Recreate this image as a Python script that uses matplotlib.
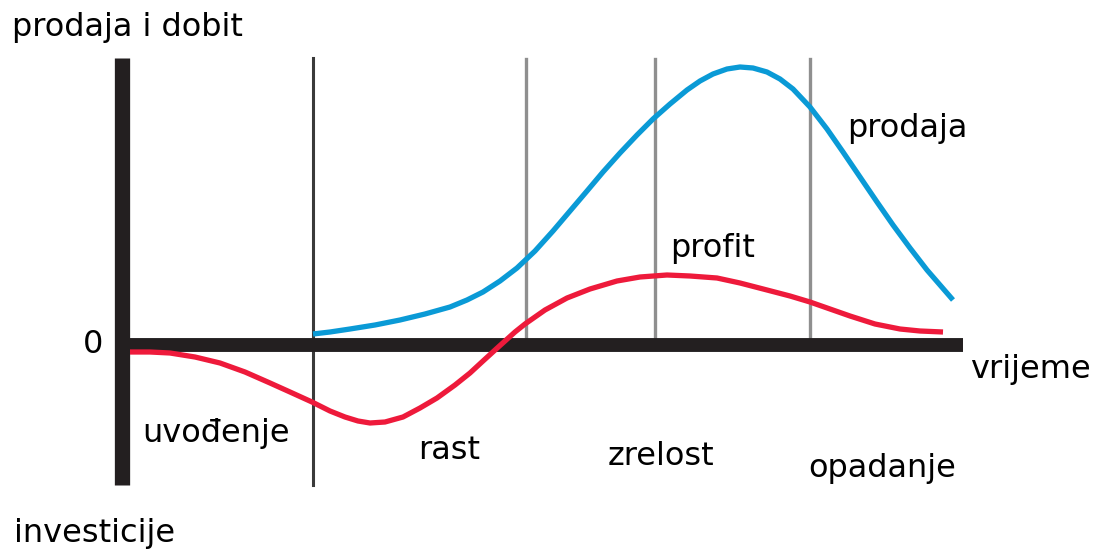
import matplotlib
matplotlib.use("Agg")
import matplotlib.pyplot as plt

# product life cycle (time / value units)
sales_t = [19.1, 20.8, 22.8, 25.3, 27.8, 30.3, 32.8, 34.5, 36.1, 37.8, 39.5, 41.3,
           43.1, 44.8, 46.5, 48.1, 49.8, 51.5, 53.1, 54.8, 56.5, 57.8, 59.1, 60.5,
           61.8, 63.1, 64.5, 65.8, 67.1, 68.8, 70.5, 72.1, 73.8, 75.5, 77.1, 78.8,
           80.5, 81.8, 83.1]
sales_v = [1.1, 1.3, 1.6, 2.0, 2.5, 3.1, 3.8, 4.5, 5.3, 6.4, 7.7, 9.4,
           11.4, 13.4, 15.4, 17.3, 19.2, 21.0, 22.6, 24.1, 25.5, 26.4, 27.1, 27.6,
           27.8, 27.7, 27.3, 26.6, 25.6, 23.8, 21.6, 19.3, 16.8, 14.3, 12.0, 9.7,
           7.5, 6.0, 4.5]

profit_t = [0.8, 2.8, 4.8, 7.3, 9.8, 12.3, 14.8, 16.8, 19.0, 20.8, 22.3, 23.6,
            24.8, 26.3, 28.1, 29.8, 31.5, 33.3, 34.8, 36.1, 37.8, 39.3, 40.3, 42.3,
            44.5, 46.8, 49.5, 51.8, 54.5, 56.8, 59.5, 61.8, 64.5, 66.8, 68.8, 70.8,
            72.8, 75.3, 77.8, 79.8, 82.1]
profit_v = [-0.7, -0.7, -0.8, -1.2, -1.8, -2.7, -3.8, -4.7, -5.7, -6.6, -7.2, -7.6,
            -7.8, -7.7, -7.2, -6.3, -5.3, -4.0, -2.8, -1.6, -0.05, 1.3, 2.1, 3.5,
            4.7, 5.6, 6.4, 6.8, 7.0, 6.9, 6.7, 6.2, 5.5, 4.9, 4.3, 3.6,
            2.9, 2.1, 1.6, 1.4, 1.3]

stage_bounds = [19.1, 40.4, 53.3, 68.8]
stage_names = ["uvođenje", "rast", "zrelost", "opadanje"]
stage_label_pos = [(2.0, -9.7), (29.6, -11.4), (48.6, -12.0), (68.6, -13.2)]

fig = plt.figure(figsize=(10.99, 5.49), dpi=100)
ax = fig.add_axes([0, 0, 1, 1])
ax.set_xlim(-12.2, 97.7)
ax.set_ylim(-20.4, 34.5)
ax.axis("off")

fs = 23
black = "#231f20"

# stage separators
ax.plot([stage_bounds[0]] * 2, [28.7, -14.0], color="#3a3a3a", lw=2.2, zorder=1)
for b in stage_bounds[1:]:
    ax.plot([b, b], [28.6, 0], color="#8f8f8f", lw=2.4, zorder=1)

# axes
ax.plot([0, 0], [28.7, -14.0], color=black, lw=11, solid_capstyle="butt", zorder=3)
ax.plot([-0.7, 84.1], [0, 0], color=black, lw=10, solid_capstyle="butt", zorder=3)

# curves
ax.plot(sales_t, sales_v, color="#0a9ad6", lw=3.8, zorder=2,
        solid_capstyle="butt", solid_joinstyle="round")
ax.plot(profit_t, profit_v, color="#ee1a3b", lw=3.8, zorder=4,
        solid_capstyle="butt", solid_joinstyle="round")

for name, (x, y) in zip(stage_names, stage_label_pos):
    ax.text(x, y, name, fontsize=fs, va="baseline", ha="left")

ax.text(-11.0, 30.9, "prodaja i dobit", fontsize=fs, va="baseline", ha="left")
ax.text(-10.8, -19.7, "investicije", fontsize=fs, va="baseline", ha="left")
ax.text(-3.9, -0.8, "0", fontsize=fs, va="baseline", ha="left")
ax.text(84.8, -3.3, "vrijeme", fontsize=fs, va="baseline", ha="left")
ax.text(72.5, 20.8, "prodaja", fontsize=fs, va="baseline", ha="left")
ax.text(54.8, 8.8, "profit", fontsize=fs, va="baseline", ha="left")

fig.savefig("out.png", dpi=100)
